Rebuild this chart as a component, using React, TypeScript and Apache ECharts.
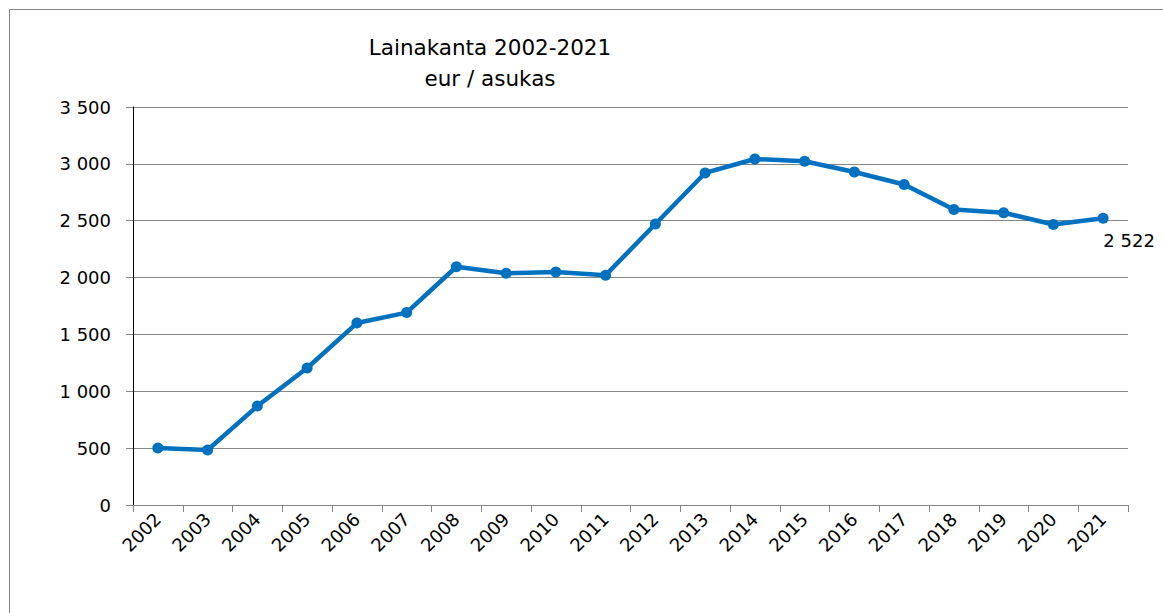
import React, { useEffect, useRef } from "react";
import * as echarts from "echarts";

const years = ["2002","2003","2004","2005","2006","2007","2008","2009","2010","2011","2012","2013","2014","2015","2016","2017","2018","2019","2020","2021"];
const values = [501, 484, 870, 1205, 1600, 1692, 2095, 2038, 2049, 2021, 2471, 2920, 3043, 3023, 2928, 2818, 2598, 2570, 2467, 2522];
const titleLines = ["Lainakanta 2002-2021", "eur / asukas"];

const fmt = (v: number) => {
  const s = String(Math.round(v));
  return s.replace(/\B(?=(\d{3})+(?!\d))/g, " ");
};

export default function App() {
  const ref = useRef<HTMLDivElement>(null);
  useEffect(() => {
    if (!ref.current) return;
    const chart = echarts.init(ref.current, null, { renderer: "svg" });
    const font = "'DejaVu Sans', sans-serif";
    const last = values.length - 1;
    chart.setOption({
      animation: false,
      backgroundColor: "#ffffff",
      textStyle: { fontFamily: font },
      title: {
        text: titleLines.join("\n"),
        left: 485,
        top: 27,
        textAlign: "center",
        textStyle: { fontSize: 21.5, fontWeight: "normal", color: "#000", lineHeight: 31, fontFamily: font },
      },
      graphic: [
        {
          type: "rect",
          shape: { x: 9.5, y: 9.5, width: 1170, height: 640 },
          style: { fill: "none", stroke: "#868686", lineWidth: 1 },
          silent: true,
        },
      ],
      grid: { left: 133, right: 35, top: 107, bottom: 108 },
      xAxis: {
        type: "category",
        data: years,
        boundaryGap: true,
        axisLine: { show: true, lineStyle: { color: "#868686", width: 1 } },
        axisTick: { show: true, length: 7, alignWithLabel: false, lineStyle: { color: "#868686" } },
        axisLabel: { rotate: 45, fontSize: 18, color: "#000", margin: 11, fontFamily: font },
        splitLine: { show: false },
      },
      yAxis: {
        type: "value",
        min: 0,
        max: 3500,
        interval: 500,
        axisLine: { show: true, lineStyle: { color: "#000", width: 1 } },
        axisTick: { show: true, length: 7, lineStyle: { color: "#868686" } },
        axisLabel: { fontSize: 18, color: "#000", margin: 22, formatter: (v: number) => fmt(v), fontFamily: font },
        splitLine: { show: true, lineStyle: { color: "#868686", width: 1 } },
      },
      series: [
        {
          type: "line",
          data: values.map((v, i) =>
            i === last
              ? {
                  value: v,
                  label: {
                    show: true,
                    position: "bottom",
                    offset: [26, 3],
                    formatter: (p: any) => fmt(p.value),
                    fontSize: 18,
                    color: "#000",
                    fontFamily: font,
                  },
                }
              : v
          ),
          symbol: "circle",
          symbolSize: 11,
          lineStyle: { color: "#0070C0", width: 4.5 },
          itemStyle: { color: "#0070C0" },
        },
      ],
    });
    return () => chart.dispose();
  }, []);
  return <div ref={ref} style={{ position: "fixed", left: 0, top: 0, width: 1163, height: 613 }} />;
}
